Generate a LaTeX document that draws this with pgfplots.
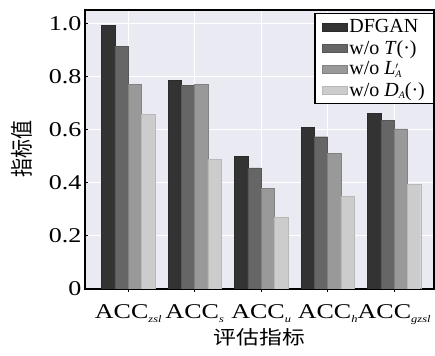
\documentclass[border=0pt]{standalone}
\usepackage{fontspec}
\setmainfont{Liberation Serif}
\newfontfamily\cjk{Noto Sans CJK SC}
\usepackage{graphicx}
\usepackage{pgfplots}
\pgfplotsset{compat=1.18}

% horizontally widened text and small italic subscripts
\newcommand\sx[1]{\scalebox{1.24}[1]{#1}}
\newcommand\sub[1]{\raisebox{-4pt}{\fontsize{10}{10}\selectfont\textit{#1}}}
\newcommand\lsub[1]{\raisebox{-2.5pt}{\fontsize{10}{10}\selectfont\textit{#1}}}

\definecolor{bg}{HTML}{EAEAF2}
\definecolor{c1}{HTML}{333333}
\definecolor{c2}{HTML}{666666}
\definecolor{c3}{HTML}{999999}
\definecolor{c4}{HTML}{CCCCCC}

\begin{document}
\begin{tikzpicture}
\begin{axis}[
  name=ax,
  scale only axis, width=349pt, height=279pt,
  xmin=-0.65, xmax=4.6, ymin=0, ymax=1.05,
  axis background/.style={fill=bg},
  axis line style={black, line width=1.3pt},
  grid=major, major grid style={white, line width=1pt},
  xtick={0,1,2,3,4},
  xticklabels={\sx{ACC\sub{zsl}},\sx{ACC\sub{s}},\sx{ACC\sub{u}},\sx{ACC\sub{h}},\sx{ACC\sub{gzsl}}},
  ytick={0,0.2,0.4,0.6,0.8,1.0},
  yticklabels={\sx{0},\sx{0.2},\sx{0.4},\sx{0.6},\sx{0.8},\sx{1.0}},
  tick align=inside, xtick pos=bottom, ytick pos=left,
  major tick length=3pt, tick style={black, line width=1pt},
  ticklabel style={font=\fontsize{21}{23}\selectfont},
  xticklabel style={yshift=-9pt},
  every axis y label/.style={at={(rel axis cs:0,0.5)}, xshift=-63pt, anchor=center, rotate=90},
  every axis x label/.style={at={(rel axis cs:0.5,0)}, yshift=-48pt, anchor=center},
  ylabel={\scalebox{1}[1.2]{\cjk\fontsize{19}{21}\selectfont 指标值}},
  xlabel={\scalebox{1.2}[1]{\cjk\fontsize{19}{21}\selectfont 评估指标}},
  ybar, bar width=0.2,
  legend style={at={(1,1)}, anchor=north east, xshift=0.5pt, yshift=-3pt,
    draw=black, line width=1.2pt, fill=white,
    font=\fontsize{20}{22}\selectfont, cells={anchor=west},
    row sep=2pt, inner xsep=7pt, inner ysep=4pt},
  legend image code/.code={\fill[#1] (0pt,-4pt) rectangle (25pt,4pt);},
]
\addplot[fill=c1, draw=c1!85!black, line width=0.4pt, bar shift=-0.3] coordinates {(0,0.993) (1,0.786) (2,0.499) (3,0.609) (4,0.661)};
\addplot[fill=c2, draw=c2!85!black, line width=0.4pt, bar shift=-0.1] coordinates {(0,0.914) (1,0.767) (2,0.456) (3,0.573) (4,0.635)};
\addplot[fill=c3, draw=c3!85!black, line width=0.4pt, bar shift=0.1] coordinates {(0,0.771) (1,0.771) (2,0.380) (3,0.511) (4,0.603)};
\addplot[fill=c4, draw=c4!90!black, line width=0.4pt, bar shift=0.3] coordinates {(0,0.657) (1,0.489) (2,0.269) (3,0.348) (4,0.394)};
\legend{DFGAN,w/o \textit{T}(·),w/o \textit{L}{\fontsize{10}{10}\selectfont\rlap{\raisebox{5pt}{$\prime$}}\lsub{A}},w/o \textit{D}\lsub{A}(·)}
\end{axis}
\pgfresetboundingbox
\path ([shift={(-85pt,-67pt)}]ax.south west) rectangle ([shift={(1pt,10pt)}]ax.north east);
\end{tikzpicture}
\end{document}
